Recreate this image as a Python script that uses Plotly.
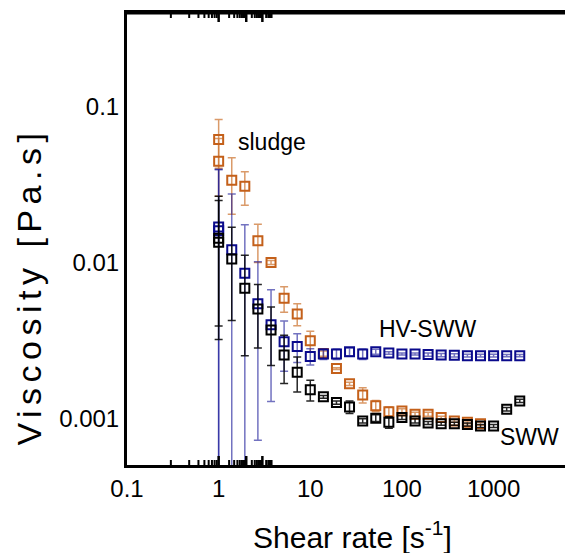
import math
import plotly.graph_objects as go

# ---- data ----
shear = [1, 1, 1.39, 1.93, 2.68, 3.73, 5.18, 7.2, 10, 13.9, 19.3, 26.8, 37.3, 51.8,
         72, 100, 139, 193, 268, 373, 518, 720, 1000, 1390, 1930]

sludge = [0.0615, 0.0446, 0.0337, 0.0308, 0.0138, 0.0100, 0.00589, 0.00467, 0.00314,
          0.0026, 0.00208, 0.00166, 0.00141, 0.00120, 0.00110, 0.00111, 0.00106,
          0.00106, 0.00101, 0.00096, 0.00094, 0.00092]
sludge_err = [0.0212, 0.018, 0.0133, 0.0075, 0.0038, 0.0003, 0.0011, 0.00075, 0.00048,
              0.0001, 0.00003, 0.00004, 0.00016, 0.0001, 0.00008, 0.00004, 0.00003,
              0.00003, 0.00002, 0.00002, 0.00002, 0.00002]

hv_sww = [0.0169, 0.0160, 0.01205, 0.00853, 0.00542, 0.00398, 0.00310, 0.00288, 0.00249,
          0.00258, 0.00258, 0.00267, 0.00258, 0.00267, 0.00262, 0.00258, 0.00258,
          0.00256, 0.00254, 0.00253, 0.00252, 0.00252, 0.00252, 0.00252, 0.00252]
hv_sww_err = [0.0227, 0.0236, 0.0155, 0.0089, 0.0047, 0.0027, 0.0011, 0.0006, 0.0003,
              0.0002, 0.0002, 0.00015, 0.0002, 0.0001, 0.00005, 0.00004, 0.00004,
              0.00006, 0.00006, 0.00006, 0.00005, 0.00005, 0.00005, 0.00004, 0.00004]

sww = [0.0143, 0.0135, 0.01054, 0.00682, 0.00502, 0.00368, 0.00254, 0.00197, 0.00152,
       0.00137, 0.00126, 0.00118, 0.00096, 0.00100, 0.00094, 0.00101, 0.00096, 0.00093,
       0.00092, 0.00092, 0.00091, 0.00089, 0.00089, 0.00114, 0.00129]
sww_err_plus = [0.0123, 0.0115, 0.0063, 0.0043, 0.0022, 0.0015, 0.00087, 0.0005, 0.00023,
                0.00003, 0.00003, 0.00011, 0.00003, 0.00005, 0.00008, 0.00003, 0.00003,
                0.00002, 0.00002, 0.00002, 0.00002, 0.00002, 0.00002, 0.00003, 0.00003]
sww_err_minus = [0.0111, 0.0096, 0.0063, 0.0043, 0.0022, 0.0015, 0.00087, 0.0005, 0.00023,
                 0.00003, 0.00003, 0.00011, 0.00003, 0.00005, 0.00008, 0.00003, 0.00003,
                 0.00002, 0.00002, 0.00002, 0.00002, 0.00002, 0.00002, 0.00003, 0.00003]

x_range = [0.1, 6820]
y_range = [0.0005, 0.4]
x_tickvals = [0.1, 1, 10, 100, 1000]
x_ticktext = ["0.1", "1", "10", "100", "1000"]
y_tickvals = [0.001, 0.01, 0.1]
y_ticktext = ["0.001", "0.01", "0.1"]

# minor tick positions (axis decoration only)
x_minor = [m * 10.0 ** e for e in range(-1, 4) for m in range(2, 10) if m * 10.0 ** e < x_range[1]]
y_minor = [m * 10.0 ** e for e in range(-4, 0) for m in range(2, 10)
           if y_range[0] <= m * 10.0 ** e <= y_range[1]]

ORANGE = "rgb(196,96,26)"
BLUE = "rgb(10,10,140)"
BLACK = "black"
FONT = "Liberation Sans, Arial, sans-serif"

fig = go.Figure()

fig.add_trace(go.Scatter(
    x=shear[:len(sludge)], y=sludge, mode="markers", name="sludge",
    marker=dict(symbol="square-open", size=9, color=ORANGE, line=dict(width=2, color=ORANGE)),
    error_y=dict(type="data", array=sludge_err, visible=True, color="rgba(205,120,55,0.75)",
                 thickness=1.5, width=4),
))
fig.add_trace(go.Scatter(
    x=shear, y=hv_sww, mode="markers", name="HV-SWW",
    marker=dict(symbol="square-open", size=9, color=BLUE, line=dict(width=2, color=BLUE)),
    error_y=dict(type="data", array=hv_sww_err, visible=True, color="rgba(20,20,150,0.6)",
                 thickness=1.5, width=4),
))
fig.add_trace(go.Scatter(
    x=shear, y=sww, mode="markers", name="SWW",
    marker=dict(symbol="square-open", size=9, color=BLACK, line=dict(width=2, color=BLACK)),
    error_y=dict(type="data", array=sww_err_plus, arrayminus=sww_err_minus, visible=True,
                 color="rgba(0,0,0,0.85)", thickness=1.5, width=4),
))

# frame ticks drawn as pixel-sized shapes anchored on the axis scales
shapes = []


def x_tick(v, length, width, top):
    shapes.append(dict(type="line", xref="x", yref="paper",
                       x0=math.log10(v), x1=math.log10(v),
                       ysizemode="pixel", yanchor=1 if top else 0,
                       y0=0, y1=-length if top else length,
                       line=dict(color="black", width=width), layer="above"))


def y_tick(v, length, width, right):
    shapes.append(dict(type="line", xref="paper", yref="y",
                       y0=math.log10(v), y1=math.log10(v),
                       xsizemode="pixel", xanchor=1 if right else 0,
                       x0=0, x1=-length if right else length,
                       line=dict(color="black", width=width), layer="above"))


for side in (False, True):
    for v in x_tickvals:
        x_tick(v, 9, 2.5, side)
    for v in x_minor:
        x_tick(v, 5, 2, side)
    for v in y_tickvals:
        y_tick(v, 9, 2.5, side)
for v in y_minor:
    y_tick(v, 5, 2, False)

# top edge of the frame
shapes.append(dict(type="line", xref="paper", yref="paper", x0=0, x1=1, y0=1, y1=1,
                   line=dict(color="black", width=3), layer="above"))

lx = [math.log10(v) for v in x_range]
ly = [math.log10(v) for v in y_range]
base = dict(type="log", showline=True, linewidth=3, linecolor="black", mirror=True,
            ticks="", tickmode="array", showgrid=False, zeroline=False)

fig.update_layout(
    width=565, height=545,
    margin=dict(l=119, r=0, t=5, b=88, pad=0),
    paper_bgcolor="white", plot_bgcolor="white",
    showlegend=False,
    font=dict(family=FONT, color="black"),
    xaxis=dict(range=lx, tickvals=x_tickvals, ticktext=x_ticktext,
               tickfont=dict(family=FONT, size=24, color="black"), **base),
    yaxis=dict(range=ly, tickvals=y_tickvals, ticktext=y_ticktext,
               tickfont=dict(family=FONT, size=24, color="black"), **base),
    shapes=shapes,
    annotations=[
        dict(text="sludge", xref="paper", yref="paper", x=0.327, y=0.715,
             xanchor="center", yanchor="middle",
             showarrow=False, font=dict(size=23, family=FONT)),
        dict(text="HV-SWW", xref="paper", yref="paper", x=0.679, y=0.3015,
             xanchor="center", yanchor="middle",
             showarrow=False, font=dict(size=23, family=FONT)),
        dict(text="SWW", xref="paper", yref="paper", x=0.909, y=0.061,
             xanchor="center", yanchor="middle",
             showarrow=False, font=dict(size=23, family=FONT)),
        dict(text="Shear rate [s<sup>-1</sup>]", xref="paper", yref="paper", x=0.5085, y=-0.155,
             xanchor="center", yanchor="middle",
             showarrow=False, font=dict(size=30, family=FONT)),
        dict(text='<span style="letter-spacing:5.5px">Viscosity [Pa.s]</span>', xref="paper",
             yref="paper", x=-0.222, y=0.394, textangle=-90,
             xanchor="center", yanchor="middle",
             showarrow=False, font=dict(size=34, family=FONT)),
    ],
)

fig.write_html("out.html")
